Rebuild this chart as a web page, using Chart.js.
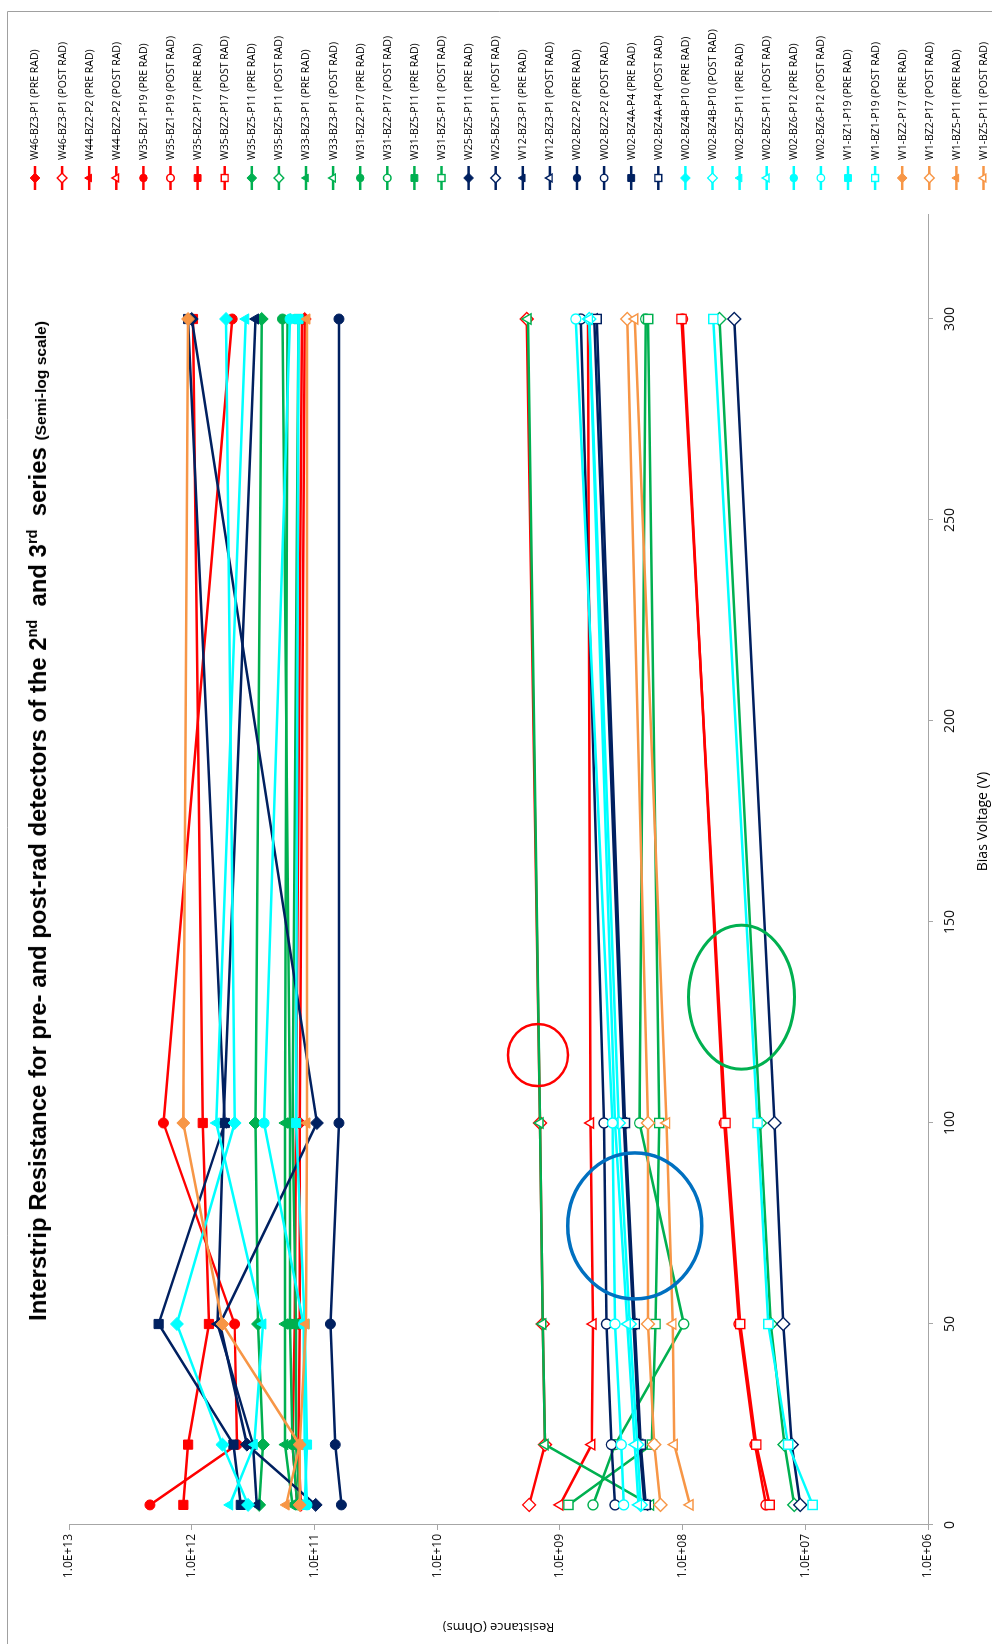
<!DOCTYPE html>
<html>
<head>
<meta charset="utf-8">
<title>Interstrip Resistance</title>
<script src="https://cdn.jsdelivr.net/npm/chart.js@4/dist/chart.umd.min.js"></script>
<style>
  html, body { margin: 0; padding: 0; background: #fff; width: 992px; height: 1644px; overflow: hidden; }
  /* The chart is laid out landscape and turned a quarter turn so it reads bottom-to-top */
  #frame {
    position: absolute; left: 0; top: 0; width: 1644px; height: 992px;
    transform-origin: 0 0; transform: translate(0, 1644px) rotate(-90deg);
    background: #fff;
  }
  #chart { position: absolute; left: 0; top: 0; }
  #title {
    position: absolute; left: 823px; top: 25px; white-space: nowrap;
    font-family: "Liberation Sans Narrow", "Liberation Sans", Arial, sans-serif;
    font-weight: bold; font-size: 23px; line-height: 26px; color: #000;
    transform-origin: 50% 50%;
  }
  #title sup { font-size: 14px; vertical-align: 9px; line-height: 0; }
  #title .small { font-size: 15px; }
</style>
</head>
<body>
<div id="frame">
  <canvas id="chart" width="1644" height="992"></canvas>
  <div id="title">Interstrip Resistance for pre- and post-rad detectors of the 2<sup>nd</sup>&nbsp; and 3<sup>rd</sup>&nbsp; series <span class="small">(Semi-log scale)</span></div>
</div>
<script>
// Bias voltages (V) at which the interstrip resistance was measured
const voltages = [5, 20, 50, 100, 300];

// Detector names, in legend order
const devices = [
  'W46-BZ3-P1', 'W44-BZ2-P2', 'W35-BZ1-P19', 'W35-BZ2-P17',
  'W35-BZ5-P11', 'W33-BZ3-P1', 'W31-BZ2-P17', 'W31-BZ5-P11',
  'W25-BZ5-P11', 'W12-BZ3-P1', 'W02-BZ2-P2', 'W02-BZ4A-P4',
  'W02-BZ4B-P10', 'W02-BZ5-P11', 'W02-BZ6-P12', 'W1-BZ1-P19',
  'W1-BZ2-P17', 'W1-BZ5-P11'
];

// Interstrip resistance (Ohms) before irradiation
const preW46   = [1.29e11, 1.35e11, 1.32e11, 1.32e11, 1.20e11];
const preW44   = [1.38e11, 1.51e11, 1.45e11, 1.41e11, 1.26e11];
const preW35a  = [2.19e12, 4.27e11, 4.47e11, 1.70e12, 4.68e11];
const preW35b  = [1.17e12, 1.07e12, 7.24e11, 8.13e11, 9.77e11];
const preW35c  = [2.82e11, 2.63e11, 2.88e11, 3.02e11, 2.69e11];
const preW33   = [1.51e11, 1.74e11, 1.74e11, 1.74e11, 1.66e11];
const preW31a  = [1.38e11, 1.51e11, 1.58e11, 1.58e11, 1.82e11];
const preW31b  = [1.32e11, 1.41e11, 1.41e11, 1.51e11, 1.35e11];
const preW25   = [9.77e10, 3.55e11, 5.89e11, 9.55e10, 1.00e12];
const preW12   = [2.95e11, 3.16e11, 6.17e11, 5.50e11, 3.02e11];
const preW02a  = [6.03e10, 6.76e10, 7.41e10, 6.31e10, 6.31e10];
const preW02b  = [3.98e11, 4.57e11, 1.86e12, 5.37e11, 1.07e12];
const preW02c  = [3.47e11, 5.62e11, 1.32e12, 4.47e11, 5.25e11];
const preW02d  = [4.90e11, 3.09e11, 2.63e11, 6.31e11, 3.63e11];
const preW02e  = [1.15e11, 1.20e11, 1.23e11, 2.57e11, 1.58e11];
const preW1a   = [1.20e11, 1.15e11, 1.20e11, 1.41e11, 1.35e11];
const preW1b   = [1.32e11, 1.32e11, 5.62e11, 1.17e12, 1.07e12];
const preW1c   = [1.70e11, 1.32e11, 1.17e11, 1.15e11, 1.15e11];

// Interstrip resistance (Ohms) after irradiation
const postW46  = [1.78e9, 1.32e9, 1.38e9, 1.45e9, 1.86e9];
const postW44  = [1.00e9, 5.50e8, 5.37e8, 5.62e8, 5.89e8];
const postW35a = [2.09e7, 2.57e7, 3.47e7, 4.57e7, 1.00e8];
const postW35b = [1.95e7, 2.51e7, 3.39e7, 4.47e7, 1.02e8];
const postW35c = [1.23e7, 1.48e7, 1.91e7, 2.34e7, 5.01e7];
const postW33  = [1.82e8, 1.32e9, 1.38e9, 1.45e9, 1.82e9];
const postW31a = [5.37e8, 3.55e8, 9.77e7, 2.24e8, 2.00e8];
const postW31b = [8.51e8, 1.78e8, 1.66e8, 1.55e8, 1.91e8];
const postW25  = [1.10e7, 1.29e7, 1.51e7, 1.78e7, 3.80e7];
const postW12  = [2.04e8, 2.24e8, 2.51e8, 3.02e8, 5.25e8];
const postW02a = [3.55e8, 3.80e8, 4.17e8, 4.37e8, 6.76e8];
const postW02b = [2.00e8, 2.19e8, 2.45e8, 2.95e8, 5.01e8];
const postW02c = [2.19e8, 2.34e8, 2.69e8, 3.31e8, 5.75e8];
const postW02d = [2.29e8, 2.45e8, 2.82e8, 3.55e8, 5.75e8];
const postW02e = [3.02e8, 3.16e8, 3.55e8, 3.72e8, 7.41e8];
const postW1a  = [8.71e6, 1.38e7, 2.00e7, 2.45e7, 5.62e7];
const postW1b  = [1.51e8, 1.70e8, 1.91e8, 1.91e8, 2.82e8];
const postW1c  = [8.71e7, 1.17e8, 1.20e8, 1.35e8, 2.45e8];

const preValues = [preW46, preW44, preW35a, preW35b, preW35c, preW33, preW31a, preW31b,
  preW25, preW12, preW02a, preW02b, preW02c, preW02d, preW02e, preW1a, preW1b, preW1c];
const postValues = [postW46, postW44, postW35a, postW35b, postW35c, postW33, postW31a, postW31b,
  postW25, postW12, postW02a, postW02b, postW02c, postW02d, postW02e, postW1a, postW1b, postW1c];

// Resistance axis: one labelled tick per decade
const resistanceTicks = [1e6, 1e7, 1e8, 1e9, 1e10, 1e11, 1e12, 1e13];
const resistanceTickLabels = ['1.0E+06', '1.0E+07', '1.0E+08', '1.0E+09', '1.0E+10', '1.0E+11', '1.0E+12', '1.0E+13'];

// Hand-drawn rings marking regions of interest (voltage, resistance)
const ringVoltages = [116.9, 131.3, 74.4];
const ringResistances = [1.51e9, 3.31e7, 2.45e8];

// Styling: colour per group of four detectors, marker per position in the group
const palette = ['#FF0000', '#00B050', '#002060', '#00FFFF', '#F79646'];
const shapes = ['rectRot', 'triangle', 'circle', 'rect'];
const shapeRadius = { rectRot: 6.5, triangle: 6, circle: 5, rect: 6.5 };
const ringStyles = [
  { color: '#FF0000', rx: 31, ry: 30, width: 2.5 },
  { color: '#00B050', rx: 72, ry: 53, width: 3 },
  { color: '#0070C0', rx: 73, ry: 67, width: 3.5 }
];

const datasets = [];
devices.forEach((name, i) => {
  const color = palette[Math.floor(i / 4)];
  const shape = shapes[i % 4];
  [['PRE RAD', preValues[i], true], ['POST RAD', postValues[i], false]].forEach(([tag, vals, filled]) => {
    datasets.push({
      label: name + ' (' + tag + ')',
      data: voltages.map((v, k) => ({ x: v, y: vals[k] })),
      borderColor: color,
      backgroundColor: color,
      borderWidth: 2.5,
      pointStyle: shape,
      pointRadius: shapeRadius[shape],
      pointBackgroundColor: filled ? color : '#FFFFFF',
      pointBorderColor: color,
      pointBorderWidth: filled ? 1 : 1.4,
      tension: 0,
      order: -datasets.length
    });
  });
});

// Rings drawn over the data through the chart scales
const ringsPlugin = {
  id: 'rings',
  afterDatasetsDraw(chart) {
    const { ctx, scales } = chart;
    ctx.save();
    ringStyles.forEach((st, i) => {
      const cx = scales.x.getPixelForValue(ringVoltages[i]);
      const cy = scales.y.getPixelForValue(ringResistances[i]);
      ctx.beginPath();
      ctx.ellipse(cx, cy, st.rx, st.ry, 0, 0, Math.PI * 2);
      ctx.strokeStyle = st.color;
      ctx.lineWidth = st.width;
      ctx.stroke();
    });
    ctx.restore();
  }
};

// Legend panel on a white box at the right, then the outer frame
const legendPlugin = {
  id: 'sideLegend',
  afterDraw(chart) {
    const ctx = chart.ctx;
    ctx.save();
    ctx.fillStyle = '#FFFFFF';
    ctx.fillRect(1430, 8, 1644 - 1430, 992 - 8);
    ctx.font = '10.5px "Open Sans", "DejaVu Sans", sans-serif';
    ctx.textBaseline = 'middle';
    ctx.textAlign = 'left';
    chart.data.datasets.forEach((ds, i) => {
      const y = 35 + i * 27.1;
      ctx.strokeStyle = ds.borderColor;
      ctx.lineWidth = 2.5;
      ctx.beginPath();
      ctx.moveTo(1454, y);
      ctx.lineTo(1478, y);
      ctx.stroke();
      ctx.fillStyle = ds.pointBackgroundColor;
      ctx.strokeStyle = ds.pointBorderColor;
      ctx.lineWidth = ds.pointBorderWidth;
      Chart.helpers.drawPoint(ctx, {
        pointStyle: ds.pointStyle, rotation: 0,
        radius: ds.pointRadius * 0.75, borderWidth: ds.pointBorderWidth
      }, 1466, y);
      ctx.fillStyle = '#000';
      ctx.fillText(ds.label, 1484, y + 0.5);
    });
    ctx.strokeStyle = '#A0A0A0';
    ctx.lineWidth = 1;
    ctx.beginPath();
    ctx.moveTo(0, 7.5);
    ctx.lineTo(1632.5, 7.5);
    ctx.lineTo(1632.5, 992);
    ctx.stroke();
    ctx.restore();
  }
};

const axisGrey = '#A6A6A6';
new Chart(document.getElementById('chart'), {
  type: 'line',
  data: { datasets },
  plugins: [ringsPlugin, legendPlugin],
  options: {
    responsive: false,
    animation: false,
    devicePixelRatio: 1,
    layout: { padding: { top: 69, left: 0, right: 118, bottom: 0 } },
    plugins: { legend: { display: false }, tooltip: { enabled: false }, title: { display: false } },
    scales: {
      x: {
        type: 'linear', min: 0, max: 350,
        ticks: { stepSize: 50, color: '#111', padding: 9, maxRotation: 0,
          font: { family: '"Open Sans", sans-serif', size: 14 } },
        grid: { display: true, drawOnChartArea: false, drawTicks: true, tickLength: 5, color: axisGrey },
        border: { color: axisGrey, width: 1 },
        title: { display: true, text: 'Bias Voltage (V)', color: '#000',
          font: { family: '"Open Sans", sans-serif', size: 14 }, padding: { top: 0, bottom: 1 } },
        afterFit(scale) { scale.height = 64; }
      },
      y: {
        type: 'logarithmic', min: 1e6, max: 1e13,
        afterBuildTicks(scale) { scale.ticks = resistanceTicks.map(v => ({ value: v })); },
        ticks: { color: '#111', padding: 4,
          font: { family: '"Open Sans", sans-serif', size: 12 },
          callback: (value, index) => resistanceTickLabels[index] },
        grid: { display: true, drawOnChartArea: false, drawTicks: true, tickLength: 5, color: axisGrey },
        border: { color: axisGrey, width: 1 },
        title: { display: true, text: 'Resistance (Ohms)', color: '#000',
          font: { family: '"Open Sans", sans-serif', size: 13 }, padding: { top: 9, bottom: 0 } },
        afterFit(scale) { scale.width = 119; }
      }
    }
  }
});

// Stretch the heading to span the plot width
(function fitTitle() {
  const el = document.getElementById('title');
  const w = el.offsetWidth;
  const k = 1000 / w;
  el.style.transform = 'translateX(-50%) scaleX(' + k.toFixed(4) + ')';
})();
</script>
</body>
</html>
